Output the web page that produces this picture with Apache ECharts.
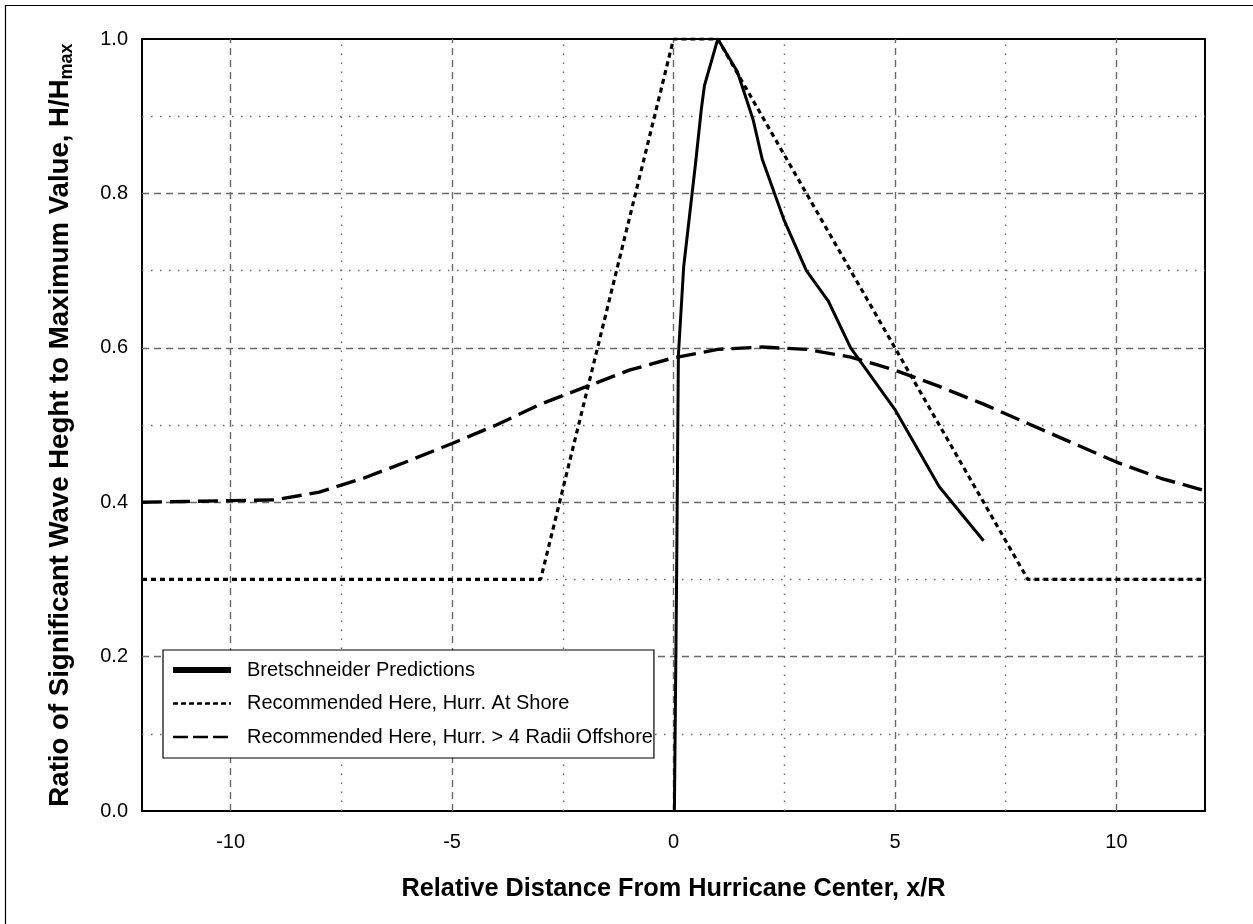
<!DOCTYPE html>
<html>
<head>
<meta charset="utf-8">
<title>Wave height ratio vs distance from hurricane center</title>
<script src="https://cdn.jsdelivr.net/npm/echarts@6/dist/echarts.min.js"></script>
<style>
  html, body { margin: 0; padding: 0; background: #fff; }
  #chart { width: 1253px; height: 924px; }
</style>
</head>
<body>
<div id="chart"></div>
<script>
// Bretschneider predictions: [x/R, H/Hmax]
const bretX = [0.02, 0.07, 0.11, 0.23, 0.5, 0.63, 0.70, 1.0, 1.44, 1.6, 1.8, 2.0, 2.5, 3.0, 3.5, 4.0, 5.0, 6.0, 7.0];
const bretY = [0.0, 0.30, 0.59, 0.705, 0.84, 0.91, 0.94, 1.0, 0.958, 0.93, 0.895, 0.845, 0.765, 0.70, 0.66, 0.60, 0.52, 0.42, 0.35];

// Recommended, hurricane at shore
const shoreX = [-12, -3, 0, 1, 8, 12];
const shoreY = [0.3, 0.3, 1.0, 1.0, 0.3, 0.3];

// Recommended, hurricane more than 4 radii offshore
const offX = [-12, -11, -10, -9, -8, -7, -6, -5, -4, -3, -2, -1, 0, 1, 2, 3, 4, 5, 6, 7, 8, 9, 10, 11, 12];
const offY = [0.40, 0.401, 0.402, 0.403, 0.413, 0.431, 0.453, 0.476, 0.50, 0.527, 0.549, 0.571, 0.587, 0.598, 0.601, 0.598, 0.588, 0.571, 0.550, 0.527, 0.502, 0.477, 0.452, 0.431, 0.415];

// Axis labels and grid lines
const xTickLabels = [-10, -5, 0, 5, 10];
const xMajorGrid = [-10, -5, 0, 5, 10];
const xMinorGrid = [-7.5, -2.5, 2.5, 7.5];
const yMajorGrid = [0.2, 0.4, 0.6, 0.8];
const yMinorGrid = [0.1, 0.3, 0.5, 0.7, 0.9];

const seriesNames = [
  'Bretschneider Predictions',
  'Recommended Here, Hurr. At Shore',
  'Recommended Here, Hurr. > 4 Radii Offshore'
];

const zip = (xs, ys) => xs.map((x, i) => [x, ys[i]]);

const majorStyle = { color: '#6a6a6a', width: 1.4, type: [7, 5] };
const minorStyle = { color: '#6a6a6a', width: 1.4, type: [1.5, 7.5] };

const gridLineData = []
  .concat(xMajorGrid.map(v => ({ xAxis: v, lineStyle: majorStyle })))
  .concat(xMinorGrid.map(v => ({ xAxis: v, lineStyle: minorStyle })))
  .concat(yMajorGrid.map(v => ({ yAxis: v, lineStyle: majorStyle })))
  .concat(yMinorGrid.map(v => ({ yAxis: v, lineStyle: minorStyle })));

const font = '"Liberation Sans", Arial, sans-serif';

const chart = echarts.init(document.getElementById('chart'), null, { renderer: 'canvas' });

chart.setOption({
  animation: false,
  backgroundColor: '#fff',
  color: ['#000', '#000', '#000', '#000'],
  graphic: [{
    type: 'rect',
    shape: { x: 5.5, y: 5.5, width: 1270, height: 940 },
    style: { fill: 'none', stroke: '#000', lineWidth: 1.2 },
    silent: true,
    z: 0
  }],
  grid: {
    left: 142, top: 39, right: 48, bottom: 113,
    show: true, borderColor: '#000', borderWidth: 2, backgroundColor: 'transparent',
    z: 5
  },
  xAxis: {
    type: 'value', min: -12, max: 12, interval: 1,
    axisLine: { show: false }, axisTick: { show: false }, splitLine: { show: false },
    axisLabel: {
      margin: 21, color: '#000', fontFamily: font, fontSize: 20,
      formatter: v => (xTickLabels.indexOf(Math.round(v)) >= 0 && Math.abs(v - Math.round(v)) < 1e-9) ? String(Math.round(v)) : ''
    },
    name: 'Relative Distance From Hurricane Center, x/R',
    nameLocation: 'middle', nameGap: 66,
    nameTextStyle: { color: '#000', fontFamily: font, fontSize: 25.3, fontWeight: 'bold' }
  },
  yAxis: {
    type: 'value', min: 0, max: 1, interval: 0.2,
    axisLine: { show: false }, axisTick: { show: false }, splitLine: { show: false },
    axisLabel: {
      margin: 14, color: '#000', fontFamily: font, fontSize: 20,
      formatter: v => v.toFixed(1)
    },
    name: '{a|Ratio of Significant Wave Heght to Maximum Value, H/H}{s|max}',
    nameLocation: 'middle', nameGap: 67, nameRotate: 90,
    nameTextStyle: {
      rich: {
        a: { color: '#000', fontFamily: font, fontSize: 27.6, fontWeight: 'bold', lineHeight: 30 },
        s: { color: '#000', fontFamily: font, fontSize: 18, fontWeight: 'bold', lineHeight: 30, padding: [14, 0, 0, 0] }
      }
    }
  },
  legend: {
    orient: 'vertical', left: 163, top: 650,
    backgroundColor: '#fff', borderColor: '#000', borderWidth: 1.2,
    padding: [10, 1, 11, 7],
    itemWidth: 58, itemHeight: 20, itemGap: 13.5,
    selectedMode: false,
    textStyle: { color: '#000', fontFamily: font, fontSize: 20, padding: [0, 0, 0, 11] },
    data: [
      { name: seriesNames[0], itemStyle: { opacity: 0 }, lineStyle: { width: 6, color: '#000', type: 'solid' } },
      { name: seriesNames[1], itemStyle: { opacity: 0 }, lineStyle: { width: 2.6, color: '#000', type: [5, 3] } },
      { name: seriesNames[2], itemStyle: { opacity: 0 }, lineStyle: { width: 2.6, color: '#000', type: [15, 5] } }
    ],
    z: 20
  },
  series: [
    {
      name: 'grid',
      type: 'line',
      data: [],
      silent: true,
      z: 1,
      markLine: {
        silent: true, symbol: 'none', label: { show: false },
        animation: false,
        data: gridLineData
      }
    },
    {
      name: seriesNames[0], type: 'line', data: zip(bretX, bretY),
      showSymbol: false, symbol: 'none', z: 10,
      itemStyle: { color: '#000' },
      lineStyle: { color: '#000', width: 3, type: 'solid' }
    },
    {
      name: seriesNames[1], type: 'line', data: zip(shoreX, shoreY),
      showSymbol: false, symbol: 'none', z: 9,
      itemStyle: { color: '#000' },
      lineStyle: { color: '#000', width: 3.2, type: [5, 4] }
    },
    {
      name: seriesNames[2], type: 'line', data: zip(offX, offY),
      showSymbol: false, symbol: 'none', z: 9,
      itemStyle: { color: '#000' },
      lineStyle: { color: '#000', width: 3.4, type: [20, 8] }
    }
  ]
});
</script>
</body>
</html>
